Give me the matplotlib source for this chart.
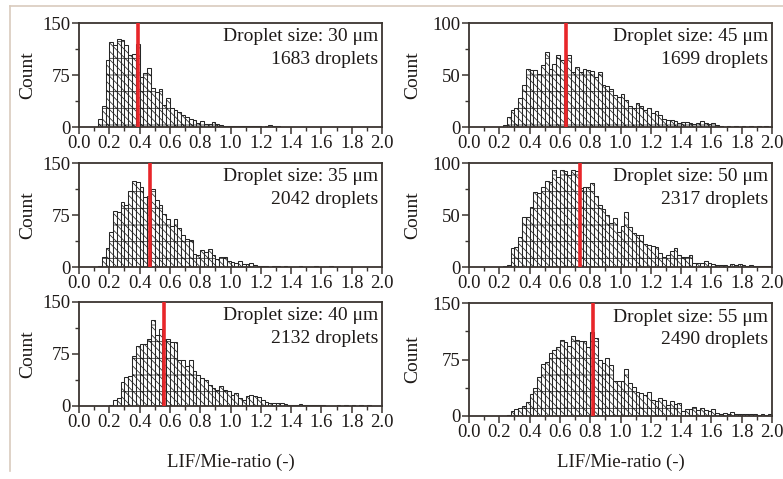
import matplotlib
matplotlib.use('Agg')
import matplotlib.pyplot as plt
from matplotlib.lines import Line2D

plt.rcParams['font.family'] = ['Liberation Serif', 'DejaVu Serif']
plt.rcParams['hatch.linewidth'] = 0.55

bin_width = 0.025

# droplet size, droplets measured, mean ratio (red line), first bin, counts per bin
sizes = [30, 35, 40, 45, 50, 55]
droplets = [1683, 2042, 2132, 1699, 2317, 2490]
means = [0.39, 0.47, 0.56, 0.64, 0.73, 0.82]
y_max = [150, 150, 150, 100, 100, 150]

start_30 = 0.125
counts_30 = [12, 30, 96, 123, 118, 127, 126, 118, 104, 106, 120, 72, 78, 85, 56, 50,
             55, 32, 42, 28, 24, 22, 18, 15, 12, 10, 6, 8, 4, 5, 7, 5, 3, 2, 2, 2,
             1, 2, 1, 1, 2, 1, 1, 0, 1, 3, 2, 1]

start_35 = 0.125
counts_35 = [2, 15, 28, 51, 81, 80, 94, 89, 109, 124, 123, 116, 101, 102, 113, 97,
             89, 77, 69, 59, 69, 56, 46, 40, 39, 19, 18, 24, 22, 26, 18, 12, 15, 14,
             8, 7, 6, 8, 5, 4, 6, 3, 2, 2, 1, 0, 1, 1, 0, 1, 0, 0, 0, 1, 0, 0, 0,
             1, 0, 0, 0, 1]

start_40 = 0.2
counts_40 = [2, 8, 11, 35, 42, 43, 72, 87, 90, 90, 96, 124, 103, 111, 97, 96, 92, 93,
             67, 66, 57, 67, 50, 45, 40, 37, 30, 26, 23, 29, 23, 21, 16, 19, 11, 9,
             14, 16, 14, 13, 9, 6, 4, 5, 5, 4, 3, 1, 1, 1, 3, 1, 2, 2, 2, 1, 1, 0,
             0, 0, 1, 0, 1, 0, 1, 0, 1, 0, 1]

start_45 = 0.225
counts_45 = [2, 10, 16, 18, 28, 40, 56, 55, 55, 51, 60, 72, 56, 61, 69, 64, 63, 69,
             53, 58, 53, 56, 55, 54, 48, 53, 40, 39, 37, 31, 29, 32, 26, 20, 18, 23,
             20, 16, 18, 13, 15, 12, 8, 7, 7, 6, 4, 5, 5, 4, 3, 4, 6, 4, 3, 4, 2, 1,
             0, 1, 0, 1, 0, 1, 0, 1, 0, 1, 0, 1]

start_50 = 0.225
counts_50 = [1, 2, 18, 19, 29, 48, 48, 58, 72, 71, 77, 83, 82, 93, 87, 93, 92, 88,
             93, 92, 76, 77, 77, 81, 68, 60, 56, 50, 42, 47, 34, 39, 53, 38, 33, 31,
             31, 22, 21, 20, 19, 13, 10, 12, 15, 18, 12, 10, 10, 12, 4, 4, 4, 6, 4,
             3, 2, 2, 2, 1, 3, 2, 3, 2, 1, 2, 1, 1, 1, 1, 1]

start_55 = 0.25
counts_55 = [1, 6, 9, 10, 13, 19, 29, 37, 52, 69, 72, 83, 88, 91, 101, 98, 93, 106,
             101, 99, 100, 91, 112, 103, 75, 71, 77, 68, 47, 47, 46, 62, 44, 38, 32,
             31, 28, 32, 21, 20, 24, 21, 15, 20, 16, 17, 6, 9, 9, 12, 8, 10, 8, 6, 9,
             4, 3, 4, 2, 5, 3, 2, 2, 3, 2, 2, 1, 2, 1, 2]

starts = [start_30, start_35, start_40, start_45, start_50, start_55]
counts = [counts_30, counts_35, counts_40, counts_45, counts_50, counts_55]

W, H = 783, 479
fig = plt.figure(figsize=(W / 100, H / 100), dpi=100)

# panel boxes in pixels: left, top, right, bottom
boxes = [
    (79, 23, 382, 127), (79, 163, 382, 267), (79, 302, 382, 406),
    (469, 23, 772, 127), (469, 163, 772, 267), (469, 303, 772, 416),
]

axis_color = '#3a3430'
text_color = '#1e1a18'

for i in range(6):
    l, t, r, b = boxes[i]
    ax = fig.add_axes([l / W, 1 - b / H, (r - l) / W, (b - t) / H])
    edges = [starts[i] + k * bin_width for k in range(len(counts[i]))]
    ax.bar(edges, counts[i], width=bin_width, align='edge', color='white',
           edgecolor='#262626', linewidth=0.75, hatch='\\\\\\\\-', zorder=2)
    ax.axvline(means[i], color='#e8262a', linewidth=2.6, zorder=3)

    ax.set_xlim(0, 2.0)
    ax.set_ylim(0, y_max[i])
    ax.set_xticks([k * 0.2 for k in range(11)])
    ax.set_xticks([0.1 + k * 0.2 for k in range(10)], minor=True)
    ax.set_yticks([0, y_max[i] / 2, y_max[i]])
    ax.set_yticks([y_max[i] / 4, 3 * y_max[i] / 4], minor=True)
    ax.set_xticklabels(['%.1f' % (k * 0.2) for k in range(11)])
    ax.set_yticklabels(['0', '%d' % (y_max[i] / 2), '%d' % y_max[i]])
    ax.tick_params(which='major', direction='out', length=5, width=1.1,
                   color=axis_color, labelsize=13.5, labelcolor=text_color, pad=1)
    ax.tick_params(which='minor', direction='out', length=3, width=1.0, color=axis_color)
    for s in ax.spines.values():
        s.set_color(axis_color)
        s.set_linewidth(1.3)

    ax.text(0.988, 0.95, 'Droplet size: %d μm\n%d droplets' % (sizes[i], droplets[i]),
            transform=ax.transAxes, ha='right', va='top', fontsize=14,
            color=text_color, linespacing=1.45)

    fig.text((l - 51 if l < 400 else l - 56) / W, 1 - (t + b) / 2 / H, 'Count',
             rotation=90, ha='center', va='center', fontsize=14, color=text_color)

fig.text(230.5 / W, 1 - 462 / H, 'LIF/Mie-ratio (-)', ha='center', va='center',
         fontsize=13.5, color=text_color)
fig.text(620.5 / W, 1 - 462 / H, 'LIF/Mie-ratio (-)', ha='center', va='center',
         fontsize=13.5, color=text_color)

# light frame around the figure
fig.add_artist(Line2D([10 / W, 1], [1 - 6 / H, 1 - 6 / H], color='#d9cbbd', linewidth=1.2))
fig.add_artist(Line2D([10 / W, 10 / W], [1 - 6 / H, 1 - 471 / H], color='#d9cbbd', linewidth=1.2))

fig.savefig('out.png', dpi=100)
